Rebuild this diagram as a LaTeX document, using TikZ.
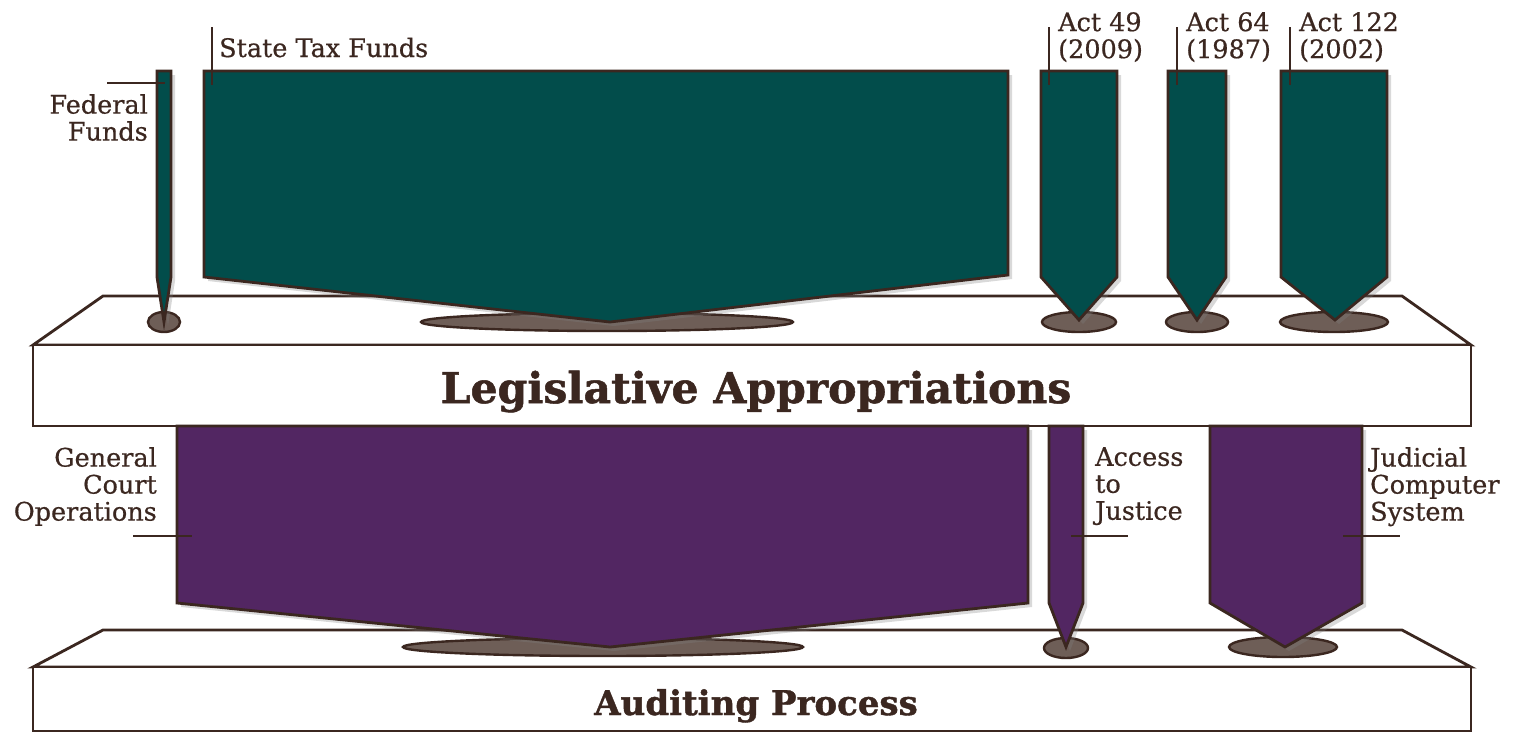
\documentclass[tikz,border=0pt]{standalone}
\usepackage{fontspec}
\setmainfont{DejaVu Serif}
\newfontfamily\tagfont[FakeBold=0.6]{DejaVu Serif}
\newfontfamily\headfont[BoldFeatures={FakeBold=1.2}]{DejaVu Serif}
\usetikzlibrary{shadows}
\definecolor{fundteal}{RGB}{2,77,75}
\definecolor{fundpurple}{RGB}{82,38,98}
\definecolor{rimbrown}{RGB}{59,39,32}
\definecolor{holebrown}{RGB}{110,94,87}

\begin{document}
\begin{tikzpicture}[x=1pt,y=-1pt,line join=miter,
    slab/.style={draw=rimbrown,line width=2.8pt,fill=white},
    flow/.style={draw=rimbrown,line width=2.8pt,
        drop shadow={shadow xshift=4pt,shadow yshift=-4pt,opacity=.3}},
    hole/.style={draw=rimbrown,line width=2.4pt,fill=holebrown},
    tick/.style={draw=rimbrown,line width=2.6pt},
    lbl/.style={text=rimbrown,font=\tagfont\fontsize{25.5}{27}\selectfont,inner sep=0pt},
    title/.style={text=rimbrown,font=\headfont\bfseries\fontsize{42.5}{44}\selectfont,inner sep=0pt}]
    \useasboundingbox (0,0) rectangle (1532,732);

    % upper slab
    \draw[slab] (33,345) -- (103,296) -- (1402,296) -- (1471,345) -- cycle;
    \draw[slab] (33,345) rectangle (1471,426);
    \node[title,anchor=base] (legis) at (756,403) {Legislative Appropriations};
    % lower slab
    \draw[slab] (33,667) -- (103,630) -- (1402,630) -- (1471,667) -- cycle;
    \draw[slab] (33,667) rectangle (1471,731);
    \node[title,anchor=base,font=\headfont\bfseries\fontsize{34}{36}\selectfont] (audit) at (756,715) {Auditing Process};

    % holes in the upper slab
    \draw[hole] (164,322) ellipse [x radius=16pt,y radius=10pt];
    \draw[hole] (607,322) ellipse [x radius=186pt,y radius=9pt];
    \draw[hole] (1079,322) ellipse [x radius=37pt,y radius=10pt];
    \draw[hole] (1197,322) ellipse [x radius=31pt,y radius=10pt];
    \draw[hole] (1334,322) ellipse [x radius=54pt,y radius=10pt];

    % incoming funds
    \draw[flow,fill=fundteal] (157,71) -- (171,71) -- (171,277) -- (164,322) -- (157,277) -- cycle; % federal
    \draw[flow,fill=fundteal] (204,71) -- (1008,71) -- (1008,275) -- (610,322) -- (204,277) -- cycle; % state tax
    \draw[flow,fill=fundteal] (1041,71) -- (1117,71) -- (1117,277) -- (1079,320) -- (1041,277) -- cycle; % act 49
    \draw[flow,fill=fundteal] (1168,71) -- (1226,71) -- (1226,277) -- (1197,320) -- (1168,277) -- cycle; % act 64
    \draw[flow,fill=fundteal] (1281,71) -- (1387,71) -- (1387,277) -- (1335,320) -- (1281,277) -- cycle; % act 122

    % holes in the lower slab
    \draw[hole] (603,647) ellipse [x radius=200pt,y radius=9pt];
    \draw[hole] (1066,648) ellipse [x radius=22pt,y radius=10pt];
    \draw[hole] (1283,647) ellipse [x radius=54pt,y radius=10pt];

    % outgoing funds
    \draw[flow,fill=fundpurple] (177,426) -- (1028,426) -- (1028,603) -- (610,647) -- (177,603) -- cycle; % court operations
    \draw[flow,fill=fundpurple] (1049,426) -- (1083,426) -- (1083,603) -- (1066,647) -- (1049,603) -- cycle; % access
    \draw[flow,fill=fundpurple] (1210,426) -- (1362,426) -- (1362,603) -- (1285,647) -- (1210,603) -- cycle; % computer
    \draw[slab,fill=none] (33,426) -- (1471,426);

    % labels above
    \draw[tick] (107,83) -- (165,83);
    \node[lbl,anchor=north east,align=right] (federal) at (148,94) {Federal\\Funds};
    \draw[tick] (212,27) -- (212,85);
    \node[lbl,anchor=base west] (statetax) at (219,57) {State Tax Funds};
    \draw[tick] (1049,27) -- (1049,85);
    \node[lbl,anchor=north west,align=left] (act49) at (1058,12) {Act 49\\(2009)};
    \draw[tick] (1177,27) -- (1177,85);
    \node[lbl,anchor=north west,align=left] (act64) at (1186,12) {Act 64\\(1987)};
    \draw[tick] (1290,27) -- (1290,85);
    \node[lbl,anchor=north west,align=left] (act122) at (1299,12) {Act 122\\(2002)};

    % labels below
    \draw[tick] (133,536) -- (192,536);
    \node[lbl,anchor=north east,align=right] (courtops) at (157,447) {General\\Court\\Operations};
    \draw[tick] (1071,536) -- (1128,536);
    \node[lbl,anchor=north west,align=left] (access) at (1095,447) {Access\\to\\Justice};
    \draw[tick] (1343,536) -- (1400,536);
    \node[lbl,anchor=north west,align=left] (jcs) at (1370,447) {Judicial\\Computer\\System};
\end{tikzpicture}
\end{document}
